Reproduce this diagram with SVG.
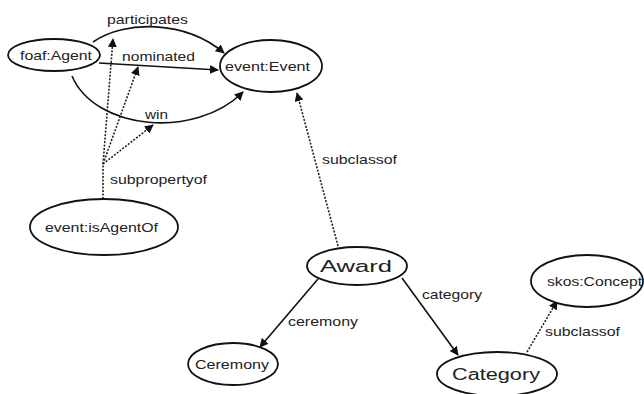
<svg xmlns="http://www.w3.org/2000/svg" width="644" height="394" viewBox="0 0 644 394">
<style>
.node ellipse{fill:#fff;stroke:#111;stroke-width:1.8}
text{font-family:"Liberation Sans",Arial,sans-serif;fill:#222}
.nt{font-size:13px}
.big{font-size:16px}
.lbl{font-size:13px}
.e{fill:none;stroke:#111;stroke-width:1.6}
.d{fill:none;stroke:#222;stroke-width:1.6;stroke-dasharray:2,1.5}
</style>
<defs>
<marker id="ah" viewBox="0 0 10 10" refX="9" refY="5" markerWidth="9" markerHeight="9" markerUnits="userSpaceOnUse" orient="auto">
<path d="M0,0 L10,5 L0,10 z" fill="#111"/>
</marker>
</defs>
<g id="connectors">
<path class="e" d="M93,42 C125,20 185,20 224,53" marker-end="url(#ah)"/>
<path class="e" d="M99,63 L218,70" marker-end="url(#ah)"/>
<path class="e" d="M72,76 C95,130 195,140 243,92" marker-end="url(#ah)"/>
<path class="d" d="M103,199 L103,164"/>
<path class="d" d="M103,164 L113,39" marker-end="url(#ah)"/>
<path class="d" d="M103,164 L138,67" marker-end="url(#ah)"/>
<path class="d" d="M103,164 L153,125" marker-end="url(#ah)"/>
<path class="d" d="M338,246 L297,93" marker-end="url(#ah)"/>
<path class="e" d="M318,279 L260,347" marker-end="url(#ah)"/>
<path class="e" d="M402,278 L458,355" marker-end="url(#ah)"/>
<path class="d" d="M527,352 L557,301" marker-end="url(#ah)"/>
<text class="lbl" x="107" y="24" textLength="81" lengthAdjust="spacingAndGlyphs">participates</text>
<text class="lbl" x="122" y="61" textLength="73" lengthAdjust="spacingAndGlyphs">nominated</text>
<text class="lbl" x="145" y="119" textLength="23" lengthAdjust="spacingAndGlyphs">win</text>
<text class="lbl" x="110" y="184" textLength="97" lengthAdjust="spacingAndGlyphs">subpropertyof</text>
<text class="lbl" x="322" y="164" textLength="75" lengthAdjust="spacingAndGlyphs">subclassof</text>
<text class="lbl" x="288" y="326" textLength="70" lengthAdjust="spacingAndGlyphs">ceremony</text>
<text class="lbl" x="422" y="299" textLength="60" lengthAdjust="spacingAndGlyphs">category</text>
<text class="lbl" x="545" y="336" textLength="75" lengthAdjust="spacingAndGlyphs">subclassof</text>
</g>
<g id="foaf-agent" class="node">
<ellipse cx="54" cy="55" rx="46" ry="16"/>
<text class="nt" x="20" y="60" textLength="72" lengthAdjust="spacingAndGlyphs">foaf:Agent</text>
</g>
<g id="event-event" class="node">
<ellipse cx="271" cy="66" rx="51" ry="26"/>
<text class="nt" x="225" y="71" textLength="85" lengthAdjust="spacingAndGlyphs">event:Event</text>
</g>
<g id="event-isagentof" class="node">
<ellipse cx="104" cy="227" rx="74" ry="28"/>
<text class="nt" x="45" y="232" textLength="113" lengthAdjust="spacingAndGlyphs">event:isAgentOf</text>
</g>
<g id="award" class="node">
<ellipse cx="357" cy="266" rx="50" ry="19"/>
<text class="big" x="320" y="272" textLength="72" lengthAdjust="spacingAndGlyphs">Award</text>
</g>
<g id="ceremony" class="node">
<ellipse cx="233" cy="364" rx="45" ry="21"/>
<text class="nt" x="195" y="369" textLength="74" lengthAdjust="spacingAndGlyphs">Ceremony</text>
</g>
<g id="category" class="node">
<ellipse cx="497" cy="374" rx="60" ry="22"/>
<text class="big" x="452" y="380" textLength="88" lengthAdjust="spacingAndGlyphs">Category</text>
</g>
<g id="skos-concept" class="node">
<ellipse cx="587" cy="281" rx="56" ry="26"/>
<text class="nt" x="547" y="286" textLength="95" lengthAdjust="spacingAndGlyphs">skos:Concept</text>
</g>
</svg>
